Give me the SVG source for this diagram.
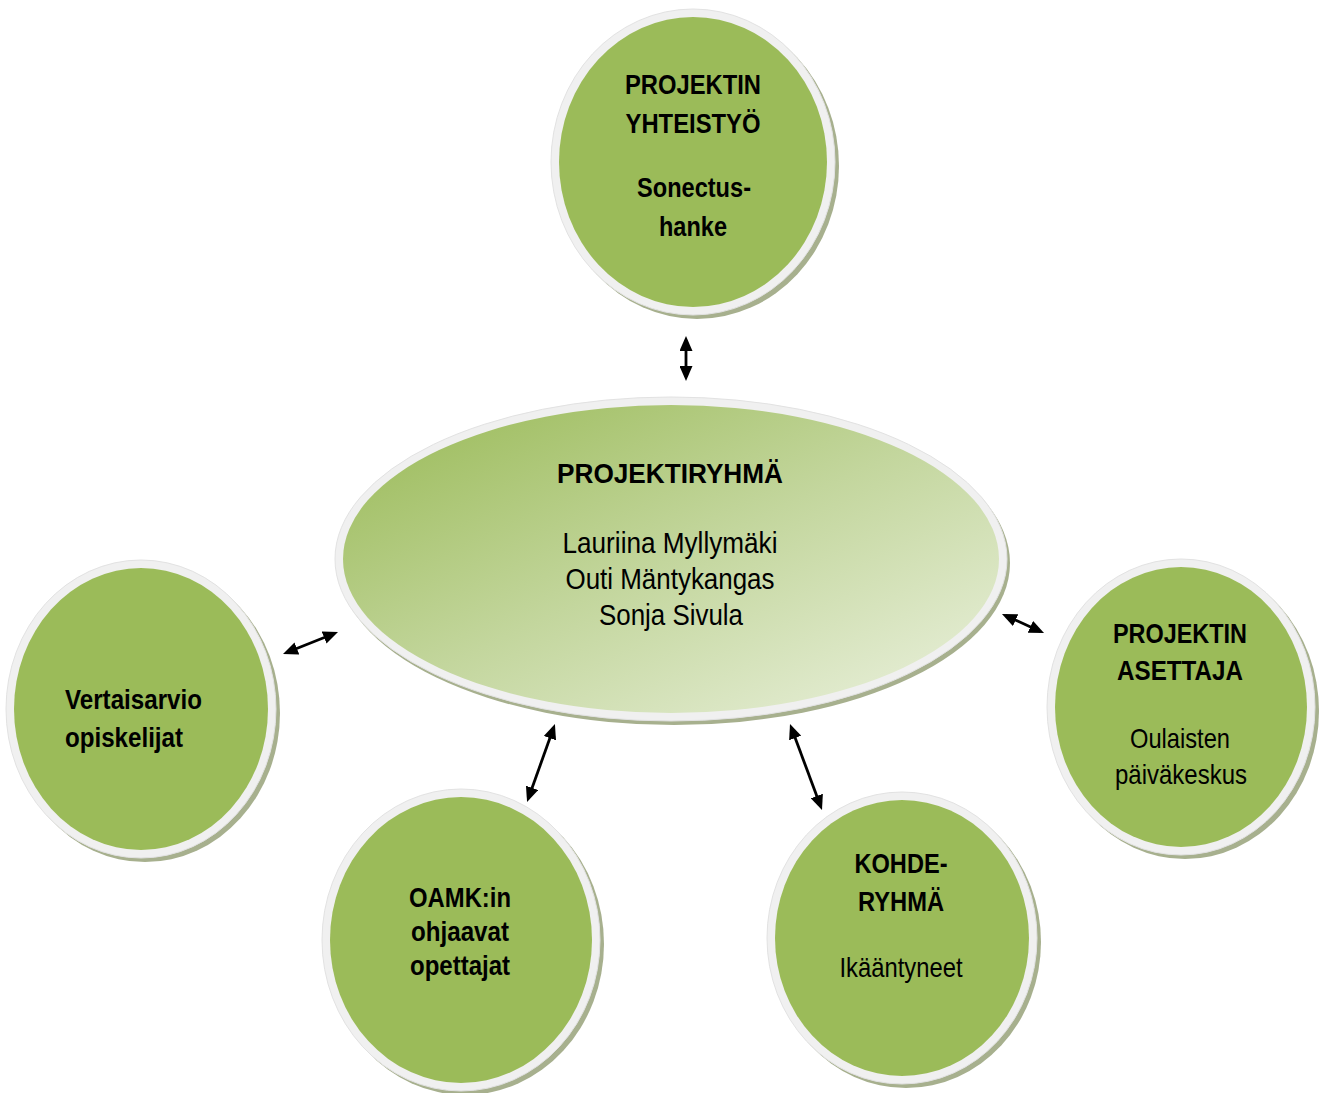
<svg xmlns="http://www.w3.org/2000/svg" width="1322" height="1093" viewBox="0 0 1322 1093">
<style>
.t{font-family:"Liberation Sans Narrow","Arial Narrow","Liberation Sans",Arial,sans-serif;fill:#000;text-anchor:middle}
.b{font-weight:bold;font-size:27px}
.r{font-weight:normal;font-size:29px}
.l{text-anchor:start}
.sh{fill:#a7b08e}
.rim{fill:#f0f0f0;stroke:#e2e2e2;stroke-width:1}
.g{fill:#9bbb59}
.c{fill:none;stroke:#000;stroke-width:2.8;marker-start:url(#ah);marker-end:url(#ah)}
</style>
<defs>
<marker id="ah" viewBox="0 0 15 13" refX="11" refY="6.5" markerWidth="15" markerHeight="13" markerUnits="userSpaceOnUse" orient="auto-start-reverse">
<path d="M0,0 L15,6.5 L0,13 z" fill="#000"/>
</marker>
<linearGradient id="cg" x1="0" y1="0" x2="1" y2="1">
<stop offset="0" stop-color="#98b954"/>
<stop offset="0.5" stop-color="#c3d69d"/>
<stop offset="1" stop-color="#ecf2e0"/>
</linearGradient>
</defs>
<rect width="1322" height="1093" fill="#fff"/>

<g id="node-projektiryhma">
<ellipse class="sh" cx="674" cy="563" rx="336" ry="162"/>
<ellipse class="rim" cx="671" cy="559" rx="336" ry="162"/>
<ellipse cx="671" cy="559" rx="328" ry="154" fill="url(#cg)"/>
<text class="t b" x="670" y="483" textLength="226" lengthAdjust="spacingAndGlyphs">PROJEKTIRYHMÄ</text>
<text class="t r" x="670" y="553" textLength="215" lengthAdjust="spacingAndGlyphs">Lauriina Myllymäki</text>
<text class="t r" x="670" y="589" textLength="209" lengthAdjust="spacingAndGlyphs">Outi Mäntykangas</text>
<text class="t r" x="671" y="625" textLength="144" lengthAdjust="spacingAndGlyphs">Sonja Sivula</text>
</g>

<g id="node-yhteistyo">
<ellipse class="sh" cx="697" cy="166" rx="142" ry="153"/>
<ellipse class="rim" cx="693" cy="162" rx="142" ry="153"/>
<ellipse class="g" cx="693" cy="162" rx="134" ry="145"/>
<text class="t b" x="693" y="94" textLength="136" lengthAdjust="spacingAndGlyphs">PROJEKTIN</text>
<text class="t b" x="693" y="133" textLength="135" lengthAdjust="spacingAndGlyphs">YHTEISTYÖ</text>
<text class="t b" x="694" y="197" textLength="114" lengthAdjust="spacingAndGlyphs">Sonectus-</text>
<text class="t b" x="693" y="236" textLength="68" lengthAdjust="spacingAndGlyphs">hanke</text>
</g>

<g id="node-vertaisarvio">
<ellipse class="sh" cx="145" cy="713" rx="135" ry="149"/>
<ellipse class="rim" cx="141" cy="709" rx="135" ry="149"/>
<ellipse class="g" cx="141" cy="709" rx="127" ry="141"/>
<text class="t b l" x="65" y="709" textLength="137" lengthAdjust="spacingAndGlyphs">Vertaisarvio</text>
<text class="t b l" x="65" y="747" textLength="118" lengthAdjust="spacingAndGlyphs">opiskelijat</text>
</g>

<g id="node-oamk">
<ellipse class="sh" cx="465" cy="944" rx="139" ry="151"/>
<ellipse class="rim" cx="461" cy="940" rx="139" ry="151"/>
<ellipse class="g" cx="461" cy="940" rx="131" ry="143"/>
<text class="t b" x="460" y="907" textLength="102" lengthAdjust="spacingAndGlyphs">OAMK:in</text>
<text class="t b" x="460" y="941" textLength="98" lengthAdjust="spacingAndGlyphs">ohjaavat</text>
<text class="t b" x="460" y="975" textLength="100" lengthAdjust="spacingAndGlyphs">opettajat</text>
</g>

<g id="node-kohderyhma">
<ellipse class="sh" cx="906" cy="942" rx="135" ry="146"/>
<ellipse class="rim" cx="902" cy="938" rx="135" ry="146"/>
<ellipse class="g" cx="902" cy="938" rx="127" ry="138"/>
<text class="t b" x="901" y="873" textLength="93" lengthAdjust="spacingAndGlyphs">KOHDE-</text>
<text class="t b" x="901" y="911" textLength="86" lengthAdjust="spacingAndGlyphs">RYHMÄ</text>
<text class="t r" x="901" y="977" style="font-size:28px" textLength="123" lengthAdjust="spacingAndGlyphs">Ikääntyneet</text>
</g>

<g id="node-asettaja">
<ellipse class="sh" cx="1185" cy="711" rx="134" ry="148"/>
<ellipse class="rim" cx="1181" cy="707" rx="134" ry="148"/>
<ellipse class="g" cx="1181" cy="707" rx="126" ry="140"/>
<text class="t b" x="1180" y="643" textLength="134" lengthAdjust="spacingAndGlyphs">PROJEKTIN</text>
<text class="t b" x="1180" y="680" textLength="126" lengthAdjust="spacingAndGlyphs">ASETTAJA</text>
<text class="t r" x="1180" y="748" style="font-size:28px" textLength="100" lengthAdjust="spacingAndGlyphs">Oulaisten</text>
<text class="t r" x="1181" y="784" style="font-size:28px" textLength="132" lengthAdjust="spacingAndGlyphs">päiväkeskus</text>
</g>

<g id="connectors">
<line class="c" x1="686" y1="340" x2="686" y2="377"/>
<line class="c" x1="286.7" y1="652.5" x2="334.3" y2="633.5"/>
<line class="c" x1="1005.6" y1="615.6" x2="1040.4" y2="631.4"/>
<line class="c" x1="553.6" y1="727.8" x2="528.4" y2="798.2"/>
<line class="c" x1="791.4" y1="727.7" x2="820.6" y2="806.3"/>
</g>
</svg>
